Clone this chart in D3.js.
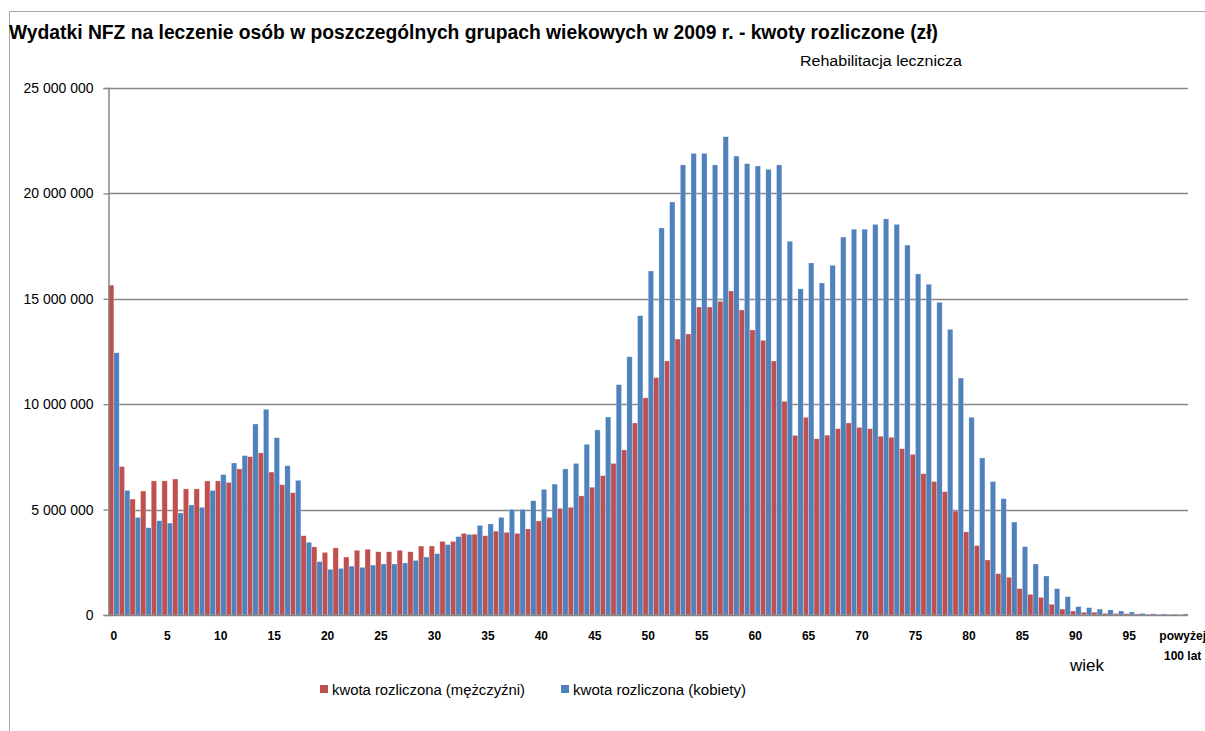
<html>
<meta charset="utf-8">
<script src="https://d3js.org/d3.v7.min.js"></script>
<style>
  body { margin: 0; background: #fff; }
  svg text { font-family: "Liberation Sans Narrow", "Arial Narrow", "Liberation Sans", sans-serif; }
</style>
<body>
<div id="chart"></div>
<script>
var WIDTH = 1205, HEIGHT = 731;

// age groups: 0..99 plus the last open group
var ages = d3.range(0, 100).map(String).concat(["powyżej 100 lat"]);

// kwota rozliczona (mężczyźni), zł
var men = [
  15650000, 7040000, 5500000, 5880000, 6360000, 6360000, 6450000, 5980000, 5980000, 6360000,
  6360000, 6290000, 6930000, 7510000, 7690000, 6780000, 6180000, 5800000, 3760000, 3230000,
  2970000, 3180000, 2750000, 3070000, 3120000, 3000000, 3000000, 3070000, 3000000, 3270000,
  3270000, 3490000, 3490000, 3870000, 3830000, 3760000, 3980000, 3920000, 3870000, 4080000,
  4460000, 4630000, 5060000, 5110000, 5650000, 6060000, 6610000, 7190000, 7830000, 9110000,
  10300000, 11260000, 12050000, 13090000, 13330000, 14610000, 14610000, 14880000, 15370000, 14470000,
  13520000, 13030000, 12050000, 10140000, 8520000, 9380000, 8360000, 8530000, 8840000, 9110000,
  8900000, 8840000, 8480000, 8430000, 7890000, 7620000, 6700000, 6330000, 5850000, 4930000,
  3940000, 3290000, 2610000, 1960000, 1790000, 1250000, 980000, 840000, 510000, 280000,
  190000, 130000, 130000, 80000, 70000, 60000, 50000, 40000, 30000, 30000,
  30000
];

// kwota rozliczona (kobiety), zł
var women = [
  12440000, 5910000, 4630000, 4140000, 4470000, 4360000, 4840000, 5220000, 5110000, 5910000,
  6660000, 7210000, 7560000, 9060000, 9760000, 8410000, 7080000, 6390000, 3450000, 2530000,
  2170000, 2210000, 2320000, 2260000, 2370000, 2420000, 2420000, 2470000, 2590000, 2750000,
  2910000, 3340000, 3720000, 3820000, 4250000, 4320000, 4630000, 5010000, 5010000, 5420000,
  5960000, 6210000, 6930000, 7190000, 8100000, 8780000, 9390000, 10930000, 12250000, 14200000,
  16320000, 18360000, 19590000, 21350000, 21900000, 21900000, 21350000, 22690000, 21770000, 21410000,
  21300000, 21140000, 21350000, 17730000, 15470000, 16700000, 15750000, 16590000, 17930000, 18300000,
  18300000, 18530000, 18790000, 18530000, 17550000, 16180000, 15690000, 14830000, 13550000, 11240000,
  9380000, 7450000, 6330000, 5520000, 4410000, 3240000, 2420000, 1850000, 1250000, 870000,
  400000, 350000, 280000, 240000, 190000, 140000, 80000, 60000, 50000, 40000,
  50000
];

var seriesNames = ["kwota rozliczona (mężczyźni)", "kwota rozliczona (kobiety)"];
var seriesColors = ["#C0504D", "#4F81BD"];
var yTicks = [0, 5000000, 10000000, 15000000, 20000000, 25000000];

var svg = d3.select("#chart").append("svg")
    .attr("width", WIDTH)
    .attr("height", HEIGHT);

// chart area border (runs off the right / bottom edge)
svg.append("path")
    .attr("d", "M9.5,731 L9.5,11.5 L1205,11.5")
    .attr("fill", "none")
    .attr("stroke", "#a6a6a6")
    .attr("stroke-width", 1);

svg.append("text")
    .attr("x", 9).attr("y", 39)
    .attr("textLength", 929)
    .attr("lengthAdjust", "spacingAndGlyphs")
    .style("font-size", "20px")
    .style("font-weight", "bold")
    .text("Wydatki NFZ na leczenie osób w poszczególnych grupach wiekowych w 2009 r. - kwoty rozliczone (zł)");

svg.append("text")
    .attr("x", 800).attr("y", 66)
    .attr("textLength", 162)
    .attr("lengthAdjust", "spacingAndGlyphs")
    .style("font-size", "14px")
    .text("Rehabilitacja lecznicza");

var x = d3.scaleBand().domain(ages).range([108.5, 1188]).padding(0);
var xs = d3.scaleBand().domain([0, 1]).range([0, x.bandwidth()]).padding(0);
var y = d3.scaleLinear().domain([0, 25000000]).range([615, 88]);

// gridlines
svg.append("g").selectAll("line")
    .data(yTicks.slice(1))
    .enter().append("line")
    .attr("x1", 108).attr("x2", 1188)
    .attr("y1", function (d) { return Math.round(y(d)) + 0.5; })
    .attr("y2", function (d) { return Math.round(y(d)) + 0.5; })
    .attr("stroke", "#868686")
    .attr("stroke-width", 1.3);

// bars
var series = [men, women];
series.forEach(function (vals, si) {
  svg.append("g").selectAll("rect")
      .data(vals)
      .enter().append("rect")
      .attr("x", function (d, i) { return x(ages[i]) + xs(si); })
      .attr("width", xs.bandwidth())
      .attr("y", function (d) { return y(d); })
      .attr("height", function (d) { return y(0) - y(d); })
      .attr("fill", seriesColors[si])
      .attr("stroke", "rgba(255,255,255,0.45)")
      .attr("stroke-width", 0.6);
});

// y axis
var yAxis = svg.append("g")
    .attr("transform", "translate(108.5,0)")
    .call(d3.axisLeft(y).tickValues(yTicks).tickSize(5).tickPadding(10)
      .tickFormat(function (d) { return d3.format(",")(d).replace(/,/g, " "); }));
yAxis.select(".domain").attr("stroke", "#868686").attr("stroke-width", 1.5);
yAxis.selectAll(".tick line").attr("stroke", "#868686").attr("stroke-width", 1.3);
yAxis.selectAll("text")
    .style("font-size", "14px")
    .style("font-family", "\"Liberation Sans Narrow\", \"Liberation Sans\", sans-serif")
    .attr("fill", "#000");

// x axis line
svg.append("line")
    .attr("x1", 108).attr("x2", 1188)
    .attr("y1", 615.5).attr("y2", 615.5)
    .attr("stroke", "#868686")
    .attr("stroke-width", 1.6);

// x tick labels every 5 years
var xLabels = svg.append("g").selectAll("text")
    .data(ages.filter(function (d, i) { return i % 5 === 0; }))
    .enter().append("text")
    .attr("x", function (d) { return x(d) + x.bandwidth() / 2; })
    .attr("y", 640)
    .attr("text-anchor", "middle")
    .style("font-size", "12px")
    .style("font-weight", "bold");
xLabels.each(function (d) {
  var t = d3.select(this);
  if (d.indexOf(" ") > 0) {
    t.append("tspan").attr("x", t.attr("x")).attr("dy", 0).text("powyżej");
    t.append("tspan").attr("x", t.attr("x")).attr("dy", 20).text("100 lat");
  } else {
    t.text(d);
  }
});

svg.append("text")
    .attr("x", 1070).attr("y", 671)
    .style("font-size", "17px")
    .text("wiek");

// legend
var legendX = [320, 561];
var legendW = [193, 173];
seriesNames.forEach(function (name, i) {
  svg.append("rect")
      .attr("x", legendX[i]).attr("y", 685)
      .attr("width", 8).attr("height", 8)
      .attr("fill", seriesColors[i]);
  svg.append("text")
      .attr("x", legendX[i] + 12).attr("y", 695)
      .attr("textLength", legendW[i])
      .attr("lengthAdjust", "spacingAndGlyphs")
      .style("font-size", "14px")
      .text(name);
});
</script>
</body>
</html>
